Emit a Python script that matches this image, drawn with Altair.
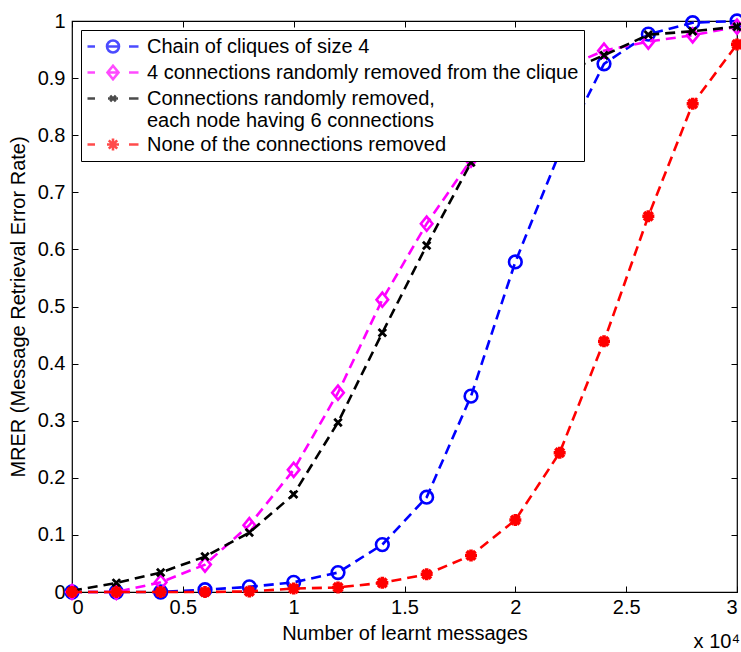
import altair as alt
import pandas as pd

# Number of learnt messages at each measurement point
messages = [0, 2000, 4000, 6000, 8000, 10000, 12000, 14000, 16000, 18000,
            20000, 22000, 24000, 26000, 28000, 30000]

series_names = [
    "Chain of cliques of size 4",
    "4 connections randomly removed from the clique",
    "Connections randomly removed,\neach node having 6 connections",
    "None of the connections removed",
]

# Message retrieval error rate for each configuration
chain_of_cliques = [0.0, 0.0, 0.0, 0.004, 0.009, 0.017, 0.034, 0.083,
                    0.166, 0.343, 0.578, 0.77, 0.925, 0.977, 0.997, 1.0]
four_removed = [0.0, 0.0, 0.017, 0.048, 0.117, 0.214, 0.349, 0.512,
                0.645, 0.757, 0.855, 0.915, 0.948, 0.964, 0.975, 0.99]
six_connections = [0.002, 0.016, 0.034, 0.062, 0.104, 0.171, 0.297, 0.454,
                   0.607, 0.752, 0.855, 0.907, 0.94, 0.976, 0.982, 0.99]
none_removed = [0.0, 0.0, 0.0, 0.0, 0.001, 0.006, 0.008, 0.016,
                0.031, 0.064, 0.126, 0.244, 0.439, 0.658, 0.855, 0.959]

x_ticks = [0, 5000, 10000, 15000, 20000, 25000, 30000]
y_ticks = [0, 0.1, 0.2, 0.3, 0.4, 0.5, 0.6, 0.7, 0.8, 0.9, 1]

colors = ["#0000ff", "#ff00ff", "#000000", "#ff0000"]

# Plot markers (normalised to the [-1, 1] symbol box)
marker_shapes = [
    "circle",
    "M0,-1L0.82,0L0,1L-0.82,0Z",
    "M-1,-1L1,1M-1,1L1,-1",
    "M-1,0H1M0,-1V1M-0.72,-0.72L0.72,0.72M-0.72,0.72L0.72,-0.72",
]
marker_sizes = [160, 200, 56, 144]
marker_strokes = [2.6, 2.6, 2.8, 3.6]

# Legend glyphs: a dashed line segment with the marker in its middle.
# One unit is 10 px; the glyph starts at the left edge of the symbol box
# and runs 51 px to the right, marker centred at +1.55.
dash = "M-1,0H-0.25M3.15,0H4.1M1.05,0H2.05"
legend_shapes = [
    dash + "M2.15,0A0.6,0.6,0,1,1,0.95,0A0.6,0.6,0,1,1,2.15,0",
    dash + "M1.55,-0.68L2.1,0L1.55,0.68L1.0,0Z",
    dash + "M1.27,-0.28L1.83,0.28M1.27,0.28L1.83,-0.28",
    dash + "M0.95,0H2.15M1.55,-0.6V0.6M1.13,-0.42L1.97,0.42M1.13,0.42L1.97,-0.42",
]

all_values = [chain_of_cliques, four_removed, six_connections, none_removed]
rows = []
for name, values in zip(series_names, all_values):
    for m, v in zip(messages, values):
        rows.append({"messages": m, "mrer": v, "series": name})
df = pd.DataFrame(rows)

FONT = "Liberation Sans"
x_scale = alt.Scale(domain=[0, 30000], nice=False, zero=False)
y_scale = alt.Scale(domain=[0, 1], nice=False)

# Inward ticks: axis line pulled inside the frame, ticks pointing back to the edge
tick_style = dict(grid=False, domain=False, tickSize=6, offset=-6,
                  tickColor="black", tickWidth=1)
text_style = dict(labelFont=FONT, labelFontSize=20, labelColor="black",
                  titleFont=FONT, titleFontSize=20, titleFontWeight="normal",
                  titleColor="black")

x_bottom = alt.Axis(orient="bottom", values=x_ticks,
                    labelExpr="format(datum.value / 10000, '~g')",
                    title="Number of learnt messages",
                    labelPadding=5, titlePadding=6, **tick_style, **text_style)
y_left = alt.Axis(orient="left", values=y_ticks, format="~g",
                  title="MRER (Message Retrieval Error Rate)",
                  labelPadding=7, titlePadding=9, **tick_style, **text_style)
x_top = alt.Axis(orient="top", values=x_ticks, labels=False, title=None,
                 **tick_style)
y_right = alt.Axis(orient="right", values=y_ticks, labels=False, title=None,
                   **tick_style)

base = alt.Chart(df)
layers = []
for i, name in enumerate(series_names):
    if i == 0:
        xa, ya = x_bottom, y_left
        xb, yb = x_top, y_right
    else:
        xa = ya = xb = yb = None
    sub = base.transform_filter(alt.datum.series == name)
    line = sub.mark_line(color=colors[i], strokeWidth=2.6,
                         strokeDash=[10, 6]).encode(
        x=alt.X("messages:Q", scale=x_scale, axis=xa),
        y=alt.Y("mrer:Q", scale=y_scale, axis=ya),
        order="messages:Q",
    )
    pts = sub.mark_point(shape=marker_shapes[i], size=marker_sizes[i],
                         color=colors[i], filled=False,
                         strokeWidth=marker_strokes[i], opacity=1).encode(
        x=alt.X("messages:Q", scale=x_scale, axis=xb),
        y=alt.Y("mrer:Q", scale=y_scale, axis=yb),
    )
    layers += [line, pts]

legend = alt.Legend(
    title=None, orient="top-left", offset=9,
    fillColor="white", strokeColor="black", padding=5,
    labelFont=FONT, labelFontSize=20, labelColor="black", labelLimit=1000,
    labelOffset=38, rowPadding=2, symbolSize=400, symbolStrokeWidth=2.6,
    labelExpr="split(datum.label, '\\n')",
)
legend_layer = base.transform_filter("false").mark_point(filled=False).encode(
    color=alt.Color("series:N", scale=alt.Scale(domain=series_names, range=colors),
                    legend=legend),
    shape=alt.Shape("series:N", scale=alt.Scale(domain=series_names, range=legend_shapes),
                    legend=legend),
)
layers.append(legend_layer)

chart = alt.layer(*layers).resolve_axis(
    x="independent", y="independent"
).properties(
    width=665, height=571,
    padding={"left": 72, "top": 21, "right": 4, "bottom": 60},
    autosize=alt.AutoSizeParams(type="none"),
    background="white",
    title=alt.TitleParams("x 10⁴", orient="bottom", anchor="end", frame="group",
                          font=FONT, fontSize=20, fontWeight="normal",
                          color="black", offset=-11, dx=3),
).configure_view(
    stroke="black", strokeWidth=1.2
)

chart.save("out.html", embed_options={"renderer": "svg", "actions": False})
